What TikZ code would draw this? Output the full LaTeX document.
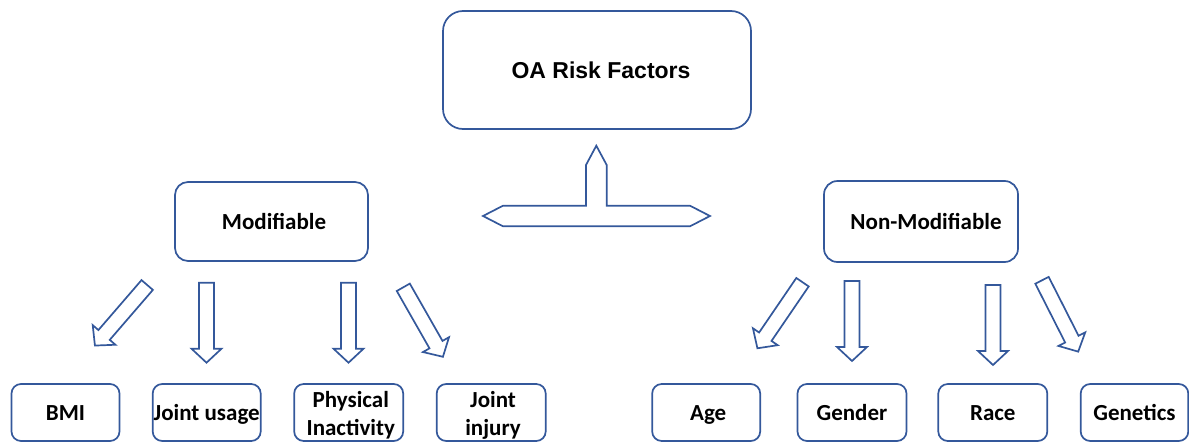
\documentclass[tikz,border=0pt]{standalone}
\usepackage{fontspec}
\setmainfont{Carlito}
\newfontfamily\arialfont{Liberation Sans}
\definecolor{edge}{RGB}{52,88,155}
\begin{document}
\begin{tikzpicture}[x=1pt,y=-1pt,
  box/.style={draw=edge, line width=1.7pt, fill=white, inner sep=0pt, text=black},
  cal/.style={font=\fontsize{23}{28}\selectfont\bfseries, text height=15pt, text depth=0pt},
  caltwo/.style={font=\fontsize{23}{28}\selectfont\bfseries, align=center, inner sep=0pt},
  arrowline/.style={draw=edge, line width=1.7pt, line join=miter, fill=white},
  pics/blockarrow/.style={code={
    \draw[arrowline] (0,-7.5) -- (66,-7.5) -- (66,-15) -- (80,0) -- (66,15) -- (66,7.5) -- (0,7.5) -- cycle;}},
  bottombox/.style={box, rounded corners=9.5pt, minimum width=108pt, minimum height=57pt}
]
\useasboundingbox (0,0) rectangle (1189,442);

% top
\node[box, rounded corners=20pt, minimum width=308pt, minimum height=118pt,
      font=\arialfont\fontsize{23}{27}\selectfont\bfseries, text height=16.5pt, text depth=0pt]
      (oa) at (597,70) {\hspace*{8pt}OA Risk Factors};

% T arrow
\draw[arrowline] (483,216) -- (503,205.7) -- (586,205.7) -- (586,165) -- (596.3,145.7)
  -- (606.7,165) -- (606.7,205.7) -- (690,205.7) -- (710,216) -- (690,226.3)
  -- (503,226.3) -- cycle;

% middle
\node[box, cal, rounded corners=13pt, minimum width=193pt, minimum height=79pt]
  (mod) at (271.5,221.5) {\hspace*{5pt}Modifiable};
\node[box, cal, rounded corners=13.5pt, minimum width=194pt, minimum height=81pt]
  (nonmod) at (921,221.5) {\hspace*{10pt}Non-Modifiable};

% arrows left
\pic[rotate=-130.8] at (147.2,285) {blockarrow};
\pic[rotate=-90] at (206.5,282.7) {blockarrow};
\pic[rotate=-90] at (348.5,282.7) {blockarrow};
\pic[rotate=-60.3] at (403.3,287.3) {blockarrow};
% arrows right
\pic[rotate=-124.3] at (802.5,282.2) {blockarrow};
\pic[rotate=-90] at (852,281) {blockarrow};
\pic[rotate=-90] at (993,285) {blockarrow};
\pic[rotate=-63.1] at (1042,280.3) {blockarrow};

% bottom boxes
\node[bottombox, cal] (bmi) at (65.5,412.5) {BMI};
\node[bottombox, cal] (usage) at (206.7,412.5) {Joint usage};
\node[bottombox, minimum width=109pt] (phys) at (348.7,412.5) {};
\node[caltwo] (physt) at (350.8,415) {Physical\\Inactivity};
\node[bottombox, minimum width=109pt] (injury) at (491.2,412.5) {};
\node[caltwo] (injuryt) at (493,415) {Joint\\injury};
\node[bottombox, cal] (age) at (706.2,412.5) {\hspace*{4pt}Age};
\node[bottombox, cal, minimum width=109pt] (gender) at (852,412.5) {Gender};
\node[bottombox, cal, minimum width=109pt] (race) at (992.8,412.5) {Race};
\node[bottombox, cal, minimum width=107.6pt] (genetics) at (1134.5,412.5) {Genetics};
\end{tikzpicture}
\end{document}
